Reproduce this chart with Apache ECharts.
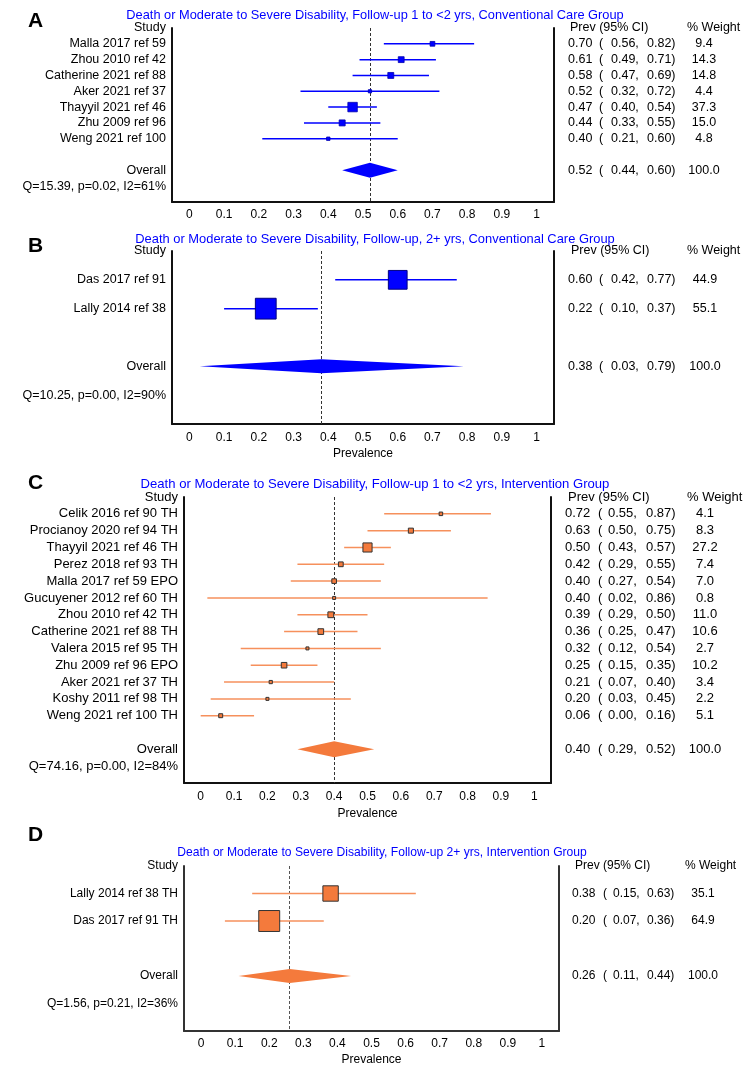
<!DOCTYPE html>
<html>
<head>
<meta charset="utf-8">
<script src="https://cdn.jsdelivr.net/npm/echarts@6/dist/echarts.min.js"></script>
<style>html,body{margin:0;padding:0;background:#fff}#c{width:750px;height:1083px}</style>
</head>
<body>
<div id="c"></div>
<script>
// ---------- DATA ----------
const xTicks = [0, 0.1, 0.2, 0.3, 0.4, 0.5, 0.6, 0.7, 0.8, 0.9, 1];

const titleA = "Death or Moderate to Severe Disability, Follow-up 1 to <2 yrs, Conventional Care Group";
const studiesA = ["Malla 2017 ref 59", "Zhou 2010 ref 42", "Catherine 2021 ref 88", "Aker 2021 ref 37", "Thayyil 2021 ref 46", "Zhu 2009 ref 96", "Weng 2021 ref 100"];
const prevA = [0.70, 0.61, 0.58, 0.52, 0.47, 0.44, 0.40];
const loA = [0.56, 0.49, 0.47, 0.32, 0.40, 0.33, 0.21];
const hiA = [0.82, 0.71, 0.69, 0.72, 0.54, 0.55, 0.60];
const weightA = [9.4, 14.3, 14.8, 4.4, 37.3, 15.0, 4.8];
const overallA = [0.52, 0.44, 0.60];
const hetA = "Q=15.39, p=0.02, I2=61%";

const titleB = "Death or Moderate to Severe Disability, Follow-up, 2+ yrs, Conventional Care Group";
const studiesB = ["Das 2017 ref 91", "Lally 2014 ref 38"];
const prevB = [0.60, 0.22];
const loB = [0.42, 0.10];
const hiB = [0.77, 0.37];
const weightB = [44.9, 55.1];
const overallB = [0.38, 0.03, 0.79];
const hetB = "Q=10.25, p=0.00, I2=90%";

const titleC = "Death or Moderate to Severe Disability, Follow-up 1 to <2 yrs, Intervention Group";
const studiesC = ["Celik 2016 ref 90 TH", "Procianoy 2020 ref 94 TH", "Thayyil 2021 ref 46 TH", "Perez 2018 ref 93 TH", "Malla 2017 ref 59 EPO", "Gucuyener 2012 ref 60 TH", "Zhou 2010 ref 42 TH", "Catherine 2021 ref 88 TH", "Valera 2015 ref 95 TH", "Zhu 2009 ref 96 EPO", "Aker 2021 ref 37 TH", "Koshy 2011 ref 98 TH", "Weng 2021 ref 100 TH"];
const prevC = [0.72, 0.63, 0.50, 0.42, 0.40, 0.40, 0.39, 0.36, 0.32, 0.25, 0.21, 0.20, 0.06];
const loC = [0.55, 0.50, 0.43, 0.29, 0.27, 0.02, 0.29, 0.25, 0.12, 0.15, 0.07, 0.03, 0.00];
const hiC = [0.87, 0.75, 0.57, 0.55, 0.54, 0.86, 0.50, 0.47, 0.54, 0.35, 0.40, 0.45, 0.16];
const weightC = [4.1, 8.3, 27.2, 7.4, 7.0, 0.8, 11.0, 10.6, 2.7, 10.2, 3.4, 2.2, 5.1];
const overallC = [0.40, 0.29, 0.52];
const hetC = "Q=74.16, p=0.00, I2=84%";

const titleD = "Death or Moderate to Severe Disability, Follow-up 2+ yrs, Intervention Group";
const studiesD = ["Lally 2014 ref 38 TH", "Das 2017 ref 91 TH"];
const prevD = [0.38, 0.20];
const loD = [0.15, 0.07];
const hiD = [0.63, 0.36];
const weightD = [35.1, 64.9];
const overallD = [0.26, 0.11, 0.44];
const hetD = "Q=1.56, p=0.21, I2=36%";

const panelLetters = ["A", "B", "C", "D"];
const headerStudy = "Study";
const headerOverall = "Overall";
const headerPrev = "Prev (95% CI)";
const headerWeight = "% Weight";
const axisName = "Prevalence";

// ---------- STYLE / LAYOUT ----------
const FONT = "'Liberation Sans', Arial, sans-serif";
const BLUE = '#0000ff';
const ORANGE = '#f47a3c';
const ORANGE_LINE = '#f6905c';

const panels = [
  { letter: panelLetters[0], title: titleA, names: studiesA, prev: prevA, lo: loA, hi: hiA, w: weightA, overall: overallA, het: hetA,
    grid: { left: 172, top: 28, width: 382, height: 174 }, fs: 12.5, titleFs: 12.8, titleX: 375, titleY: 15, letterY: 21,
    showName: false, nameGap: 24, tickMargin: 7, mk: 1.55, minMk: 3, dia: 7.5, line: BLUE, fill: BLUE, stroke: '#0000b0', strokeW: 0.8, diaFill: BLUE,
    cols: { est: 568, par: 599, lo: 611, hi: 647, w: 704, h1: 570, h2: 687 }, axisColor: '#111', dash: '#333' },
  { letter: panelLetters[1], title: titleB, names: studiesB, prev: prevB, lo: loB, hi: hiB, w: weightB, overall: overallB, het: hetB,
    grid: { left: 172, top: 251, width: 382, height: 173 }, fs: 12.5, titleFs: 12.9, titleX: 375, titleY: 239, letterY: 246,
    showName: true, nameGap: 24, tickMargin: 8, mk: 2.8, minMk: 3, dia: 7, line: BLUE, fill: BLUE, stroke: '#000080', strokeW: 1, diaFill: BLUE,
    cols: { est: 568, par: 599, lo: 611, hi: 647, w: 705, h1: 571, h2: 687 }, axisColor: '#111', dash: '#333' },
  { letter: panelLetters[2], title: titleC, names: studiesC, prev: prevC, lo: loC, hi: hiC, w: weightC, overall: overallC, het: hetC,
    grid: { left: 184, top: 497, width: 367, height: 286 }, fs: 13, titleFs: 13.1, titleX: 375, titleY: 484, letterY: 483,
    showName: true, nameGap: 25, tickMargin: 8, mk: 1.75, minMk: 3, dia: 8, line: ORANGE_LINE, fill: ORANGE, stroke: '#333', strokeW: 1, diaFill: ORANGE,
    cols: { est: 565, par: 598, lo: 608, hi: 646, w: 705, h1: 568, h2: 687 }, axisColor: '#111', dash: '#333' },
  { letter: panelLetters[3], title: titleD, names: studiesD, prev: prevD, lo: loD, hi: hiD, w: weightD, overall: overallD, het: hetD,
    grid: { left: 184, top: 866, width: 375, height: 165 }, fs: 12, titleFs: 12.1, titleX: 382, titleY: 853, letterY: 835,
    showName: true, nameGap: 23, tickMargin: 7, mk: 2.6, minMk: 3, dia: 7, line: ORANGE_LINE, fill: ORANGE, stroke: '#333', strokeW: 1, diaFill: ORANGE,
    cols: { est: 572, par: 603, lo: 613, hi: 647, w: 703, h1: 575, h2: 685 }, axisColor: '#333', dash: '#555' }
];

const grids = [], xAxes = [], yAxes = [], series = [], graphics = [];

panels.forEach((p, i) => {
  const N = p.names.length;
  const maxRow = N + 4;
  const rowLabels = [headerStudy].concat(p.names, ['', headerOverall, p.het, '']);
  grids.push(Object.assign({ containLabel: false }, p.grid));
  xAxes.push({
    type: 'value', gridIndex: i, min: -0.05, max: 1.05,
    axisLine: { show: true, onZero: false, lineStyle: { color: p.axisColor, width: 2 } },
    axisTick: { show: false }, splitLine: { show: false },
    axisLabel: { customValues: xTicks, formatter: v => String(v), color: '#000', fontFamily: FONT, fontSize: 12, margin: p.tickMargin },
    name: p.showName ? axisName : '', nameLocation: 'middle', nameGap: p.nameGap,
    nameTextStyle: { color: '#000', fontFamily: FONT, fontSize: 12 }
  });
  yAxes.push({
    type: 'value', gridIndex: i, min: 0, max: maxRow, interval: 1, inverse: true, position: 'left',
    axisLine: { show: true, onZero: false, lineStyle: { color: p.axisColor, width: 2 } },
    axisTick: { show: false }, splitLine: { show: false },
    axisLabel: { show: true, showMinLabel: true, showMaxLabel: true, hideOverlap: false, margin: 6,
      formatter: v => rowLabels[Math.round(v)] || '', color: '#000', fontFamily: FONT, fontSize: p.fs }
  });
  yAxes.push({
    type: 'value', gridIndex: i, min: 0, max: maxRow, interval: 1, inverse: true, position: 'right',
    axisLine: { show: true, onZero: false, lineStyle: { color: p.axisColor, width: 2 } },
    axisTick: { show: false }, splitLine: { show: false }, axisLabel: { show: false }
  });
  const yi = 2 * i;

  // study markers + CI lines
  series.push({
    type: 'custom', xAxisIndex: i, yAxisIndex: yi, clip: false, z: 3,
    data: p.prev.map((v, k) => [v, k + 1, p.lo[k], p.hi[k], p.w[k]]),
    encode: { x: 0, y: 1 },
    renderItem: (params, api) => {
      const r = api.value(1);
      const c = api.coord([api.value(0), r]);
      const cl = api.coord([api.value(2), r]);
      const ch = api.coord([api.value(3), r]);
      const s = Math.max(p.minMk, p.mk * Math.sqrt(api.value(4)));
      return { type: 'group', children: [
        { type: 'line', shape: { x1: cl[0], y1: c[1], x2: ch[0], y2: c[1] }, style: { stroke: p.line, lineWidth: 1.5 } },
        { type: 'rect', shape: { x: c[0] - s / 2, y: c[1] - s / 2, width: s, height: s }, style: { fill: p.fill, stroke: p.stroke, lineWidth: p.strokeW } }
      ] };
    }
  });

  // overall diamond + dashed reference line
  series.push({
    type: 'custom', xAxisIndex: i, yAxisIndex: yi, clip: false, z: 3,
    data: [[p.overall[0], N + 2, p.overall[1], p.overall[2]]],
    encode: { x: 0, y: 1 },
    renderItem: (params, api) => {
      const r = api.value(1);
      const c = api.coord([api.value(0), r]);
      const cl = api.coord([api.value(2), r]);
      const ch = api.coord([api.value(3), r]);
      return { type: 'polygon', shape: { points: [[cl[0], c[1]], [c[0], c[1] - p.dia], [ch[0], c[1]], [c[0], c[1] + p.dia]] },
        style: { fill: p.diaFill } };
    },
    markLine: { silent: true, symbol: ['none', 'none'], label: { show: false },
      lineStyle: { type: [3, 2], color: p.dash, width: 1 }, data: [{ xAxis: p.overall[0] }], z: 2 }
  });

  // right-hand text columns (rows positioned by the y scale)
  const textRows = [];
  textRows.push({ row: 0, items: [{ x: p.cols.h1, t: headerPrev, a: 'left' }, { x: p.cols.h2, t: headerWeight, a: 'left' }] });
  p.prev.forEach((v, k) => {
    textRows.push({ row: k + 1, items: [
      { x: p.cols.est, t: v.toFixed(2), a: 'left' },
      { x: p.cols.par, t: '(', a: 'left' },
      { x: p.cols.lo, t: p.lo[k].toFixed(2) + ',', a: 'left' },
      { x: p.cols.hi, t: p.hi[k].toFixed(2) + ')', a: 'left' },
      { x: p.cols.w, t: p.w[k].toFixed(1), a: 'center' }
    ] });
  });
  const totalW = p.w.reduce((s, v) => s + v, 0);
  textRows.push({ row: N + 2, items: [
    { x: p.cols.est, t: p.overall[0].toFixed(2), a: 'left' },
    { x: p.cols.par, t: '(', a: 'left' },
    { x: p.cols.lo, t: p.overall[1].toFixed(2) + ',', a: 'left' },
    { x: p.cols.hi, t: p.overall[2].toFixed(2) + ')', a: 'left' },
    { x: p.cols.w, t: (Math.round(totalW)).toFixed(1), a: 'center' }
  ] });
  series.push({
    type: 'custom', xAxisIndex: i, yAxisIndex: yi, clip: false, z: 5,
    data: textRows.map(tr => [0, tr.row]),
    encode: { x: 0, y: 1 },
    renderItem: (params, api) => {
      const tr = textRows[params.dataIndex];
      const y = api.coord([0, api.value(1)])[1];
      return { type: 'group', children: tr.items.map(it => ({
        type: 'text', x: it.x, y: y,
        style: { text: it.t, fill: '#000', font: p.fs + 'px ' + FONT, textAlign: it.a, textVerticalAlign: 'middle', align: it.a, verticalAlign: 'middle' }
      })) };
    }
  });

  graphics.push({ type: 'text', x: p.titleX, y: p.titleY,
    style: { text: p.title, fill: BLUE, font: p.titleFs + 'px ' + FONT, textAlign: 'center', textVerticalAlign: 'middle', align: 'center', verticalAlign: 'middle' } });
  graphics.push({ type: 'text', x: 28, y: p.letterY,
    style: { text: p.letter, fill: '#000', font: 'bold 21px "Liberation Sans", Arial, sans-serif', textAlign: 'left', textVerticalAlign: 'middle', align: 'left', verticalAlign: 'middle' } });
});

const chart = echarts.init(document.getElementById('c'), null, { renderer: 'canvas' });
chart.setOption({
  animation: false,
  backgroundColor: '#fff',
  grid: grids,
  xAxis: xAxes,
  yAxis: yAxes,
  series: series,
  graphic: graphics
});
</script>
</body>
</html>
